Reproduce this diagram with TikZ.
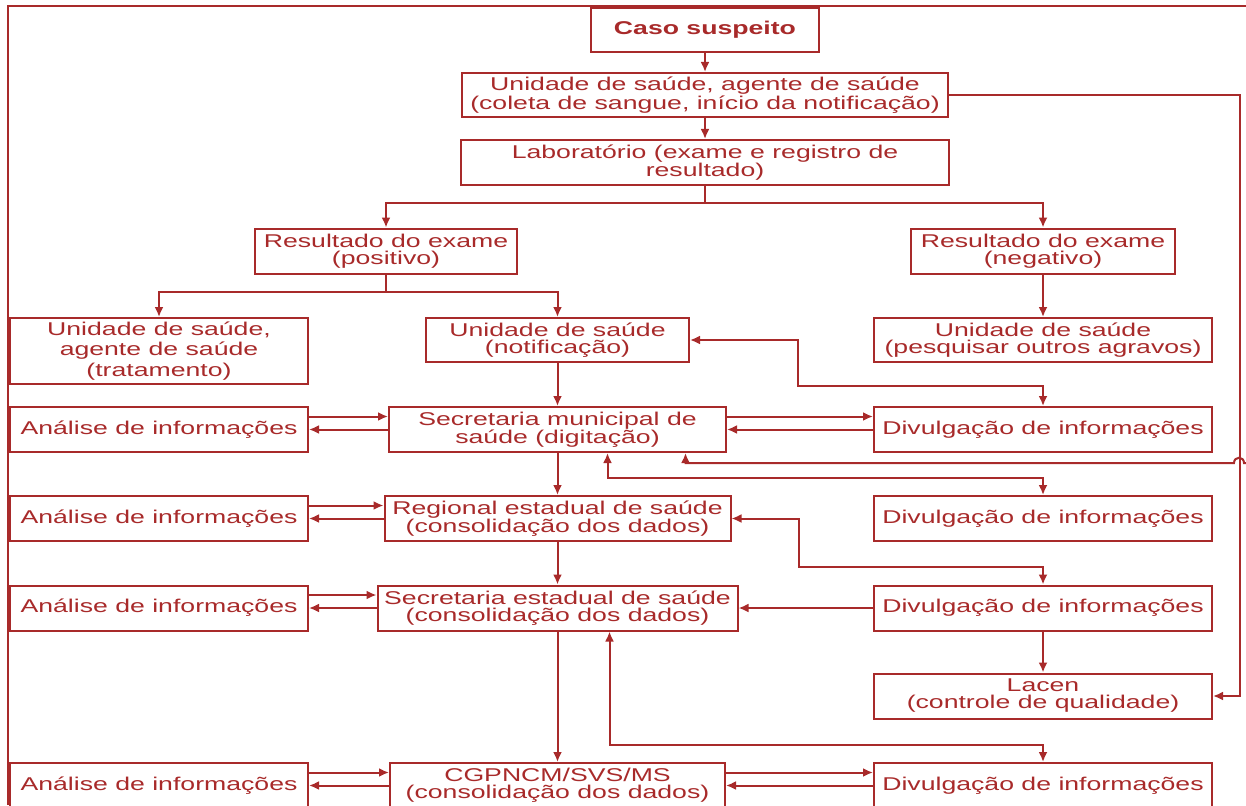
\documentclass[tikz,border=0pt]{standalone}
\usepackage{fontspec}
\setmainfont{Liberation Sans}[FakeStretch=1.44]
\usepackage{tikz}
\usetikzlibrary{arrows.meta}
\definecolor{vinho}{RGB}{168,42,42}
\tikzset{link/.style = {->,> = {Latex[length=10pt,width=9pt]}}}

\begin{document}
\begin{tikzpicture}[x=1pt,y=-1pt,line width=2pt,color=vinho,
    box node/.style={rectangle,draw,line width=2pt,align=center,inner sep=0pt,minimum height=45,font=\fontsize{18.5}{17}\selectfont},
    two lines/.style={execute at begin node={\rule{0pt}{21pt}}}]
    \clip (0,0) rectangle (1246,805);
    \draw[line width=2.2pt] (8,805) -- (8,6) -- (1246,6);

    \node[box node,minimum width=228,minimum height=44] (1) at (705,30) {\bfseries Caso suspeito};
    \node[box node,two lines,minimum width=486,minimum height=44] (2) at (705,95) {Unidade de saúde, agente de saúde\\(coleta de sangue, início da notificação)};
    \node[box node,two lines,minimum width=488] (3) at (705,162.5) {Laboratório (exame e registro de\\resultado)};
    \node[box node,two lines,minimum width=262] (4) at (386,251) {Resultado do exame\\(positivo)};
    \node[box node,two lines,minimum width=264] (5) at (1043,251) {Resultado do exame\\(negativo)};
    \node[box node,minimum width=298,minimum height=66,font=\fontsize{18.5}{20.5}\selectfont] (6) at (159,351) {Unidade de saúde,\\agente de saúde\\(tratamento)};
    \node[box node,two lines,minimum width=263,minimum height=44] (7) at (557.5,340) {Unidade de saúde\\(notificação)};
    \node[box node,two lines,minimum width=338,minimum height=44] (8) at (1043,340) {Unidade de saúde\\(pesquisar outros agravos)};

    \node[box node,minimum width=298] (9) at (159,429.5) {Análise de informações};
    \node[box node,two lines,minimum width=337] (10) at (557.5,429.5) {Secretaria municipal de\\saúde (digitação)};
    \node[box node,minimum width=338] (11) at (1043,429.5) {Divulgação de informações};
    \node[box node,minimum width=298] (12) at (159,518.5) {Análise de informações};
    \node[box node,two lines,minimum width=346] (13) at (557.5,518.5) {Regional estadual de saúde\\(consolidação dos dados)};
    \node[box node,minimum width=338] (14) at (1043,518.5) {Divulgação de informações};
    \node[box node,minimum width=298] (15) at (159,608) {Análise de informações};
    \node[box node,two lines,minimum width=360] (16) at (557.5,608) {Secretaria estadual de saúde\\(consolidação dos dados)};
    \node[box node,minimum width=338] (17) at (1043,608) {Divulgação de informações};
    \node[box node,two lines,minimum width=338] (18) at (1043,696) {Lacen\\(controle de qualidade)};
    \node[box node,minimum width=298] (19) at (159,785.5) {Análise de informações};
    \node[box node,two lines,minimum width=335] (20) at (557.5,785.5) {CGPNCM/SVS/MS\\(consolidação dos dados)};
    \node[box node,minimum width=338] (21) at (1043,785.5) {Divulgação de informações};
    \coordinate (22) at (1246,463);

    % tronco principal
    \draw[link] (1) -- (2);
    \draw[link] (2) -- (3);
    \draw[link] (3.south) -- ++(0,17) -| (4);
    \draw[link] (3.south) -- ++(0,17) -| (5);
    \draw[link] (4.south) -- ++(0,17) -| (6);
    \draw[link] (4.south) -- ++(0,17) -| (7);
    \draw[link] (5) -- (8);
    \draw[link] (7) -- (10);
    \draw[link] (10) -- (13);
    \draw[link] (13) -- (16);
    \draw[link] (16) -- (20);

    % analise
    \draw[link] ([yshift=13]9.east) -- ([yshift=13]10.west);
    \draw[link] (10.west) -- (9.east);
    \draw[link] ([yshift=13]12.east) -- ([yshift=13]13.west);
    \draw[link] (13.west) -- (12.east);
    \draw[link] ([yshift=13]15.east) -- ([yshift=13]16.west);
    \draw[link] (16.west) -- (15.east);
    \draw[link] ([yshift=13]19.east) -- ([yshift=13]20.west);
    \draw[link] (20.west) -- (19.east);

    % divulgacao
    \draw[link] ([yshift=13]10.east) -- ([yshift=13]11.west);
    \draw[link] (11.west) -- (10.east);
    \draw[link] ([yshift=13]20.east) -- ([yshift=13]21.west);
    \draw[link] (21.west) -- (20.east);
    \draw[link,<->] (7.east) -- ++(108,0) |- ([yshift=20]11.north) -- (11.north);
    \draw[link,<->] ([xshift=50]10.south) |- ([yshift=17]14.north) -- (14.north);
    \draw[link] (22) -- (1244,463) .. controls (1244,456) and (1234,456) .. (1234,463) -| ([xshift=128]10.south);
    \draw[link,<->] (13.east) -- ++(67,0) |- ([yshift=18]17.north) -- (17.north);
    \draw[link] (17) -- (16);
    \draw[link] (17) -- (18);
    \draw[link,<->] ([xshift=52]16.south) |- ([yshift=17]21.north) -- (21.north);
    \draw[link] (2.east) -- ++(291,0) |- (18.east);
\end{tikzpicture}
\end{document}
